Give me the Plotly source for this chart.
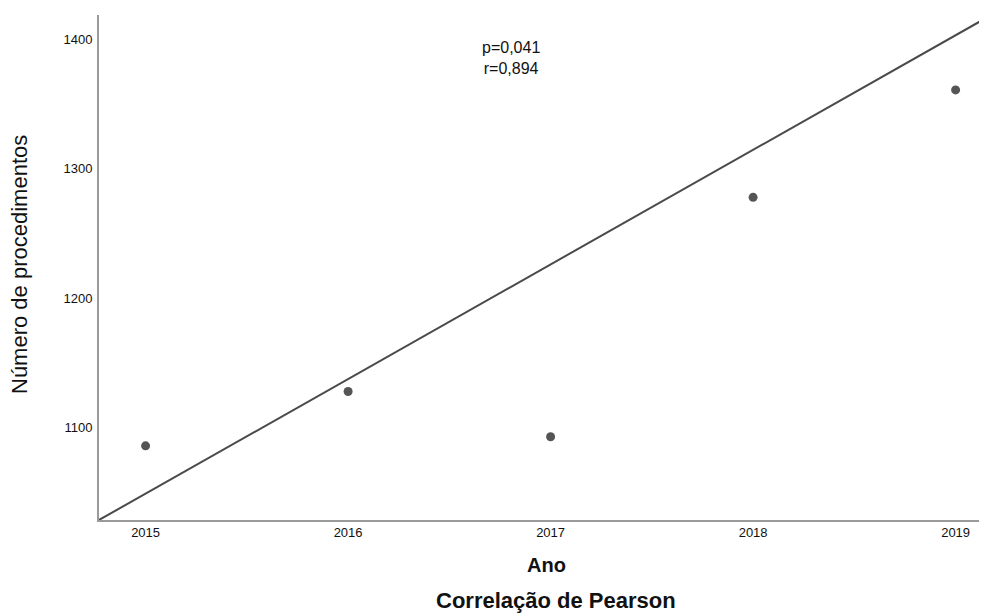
import plotly.graph_objects as go

years = [2015, 2016, 2017, 2018, 2019]
procedimentos = [1086, 1128, 1093, 1278, 1361]
line_x = [2014.77, 2019.155]
line_y = [1028.7, 1417]
y_ticks = [1100, 1200, 1300, 1400]

# The page body has an 8px margin; the figure is offset by it.
OFF = 8
PL, PR, PT, PB = 99, 987, 15, 520  # plot area in window pixels
W, H = 987 - OFF, 613 - OFF
plot_w, plot_h = PR - PL, PB - PT


def px(x):
    return (x - PL) / plot_w


def py(y):
    return (PB - y) / plot_h


fig = go.Figure()
fig.add_trace(go.Scatter(x=line_x, y=line_y, mode="lines",
                         line=dict(color="#4a4a4a", width=2), hoverinfo="skip",
                         showlegend=False))
fig.add_trace(go.Scatter(x=years, y=procedimentos, mode="markers",
                         marker=dict(color="#555555", size=9), showlegend=False))

font_family = "Liberation Sans, Arial, sans-serif"
fig.update_layout(
    width=W, height=H,
    margin=dict(l=PL - OFF, r=0, t=PT - OFF, b=613 - PB, pad=0),
    paper_bgcolor="white", plot_bgcolor="white",
    font=dict(family=font_family, color="#111111"),
    xaxis=dict(range=[2014.77, 2019.155], tickvals=years, ticktext=[str(y) for y in years],
               showgrid=False, zeroline=False, showline=True, linecolor="#9a9a9a", linewidth=2,
               ticks="", ticklen=0, tickfont=dict(size=13, color="#111111"),
               ticklabelstandoff=-1),
    yaxis=dict(range=[1028.7, 1418.9], tickvals=y_ticks,
               showgrid=False, zeroline=False, showline=True, linecolor="#9a9a9a", linewidth=2,
               ticks="", ticklen=0, tickfont=dict(size=13, color="#111111"),
               ticklabelstandoff=2),
    annotations=[
        dict(text="p=0,041<br>r=0,894", x=px(511), y=py(58), xref="paper", yref="paper",
             xanchor="center", yanchor="middle", showarrow=False,
             font=dict(size=16, color="#111111"), align="center"),
        dict(text="Número de procedimentos", x=px(19), y=py(265), xref="paper", yref="paper",
             xanchor="center", yanchor="middle", textangle=-90, showarrow=False,
             font=dict(size=22, color="#111111")),
        dict(text="<b>Ano</b>", x=px(546), y=py(565), xref="paper", yref="paper",
             xanchor="center", yanchor="middle", showarrow=False,
             font=dict(size=20, color="#111111")),
        dict(text="<b>Correlação de Pearson</b>", x=px(556), y=py(600), xref="paper",
             yref="paper", xanchor="center", yanchor="middle", showarrow=False,
             font=dict(size=22, color="#111111")),
    ],
)

fig.write_html("out.html")
